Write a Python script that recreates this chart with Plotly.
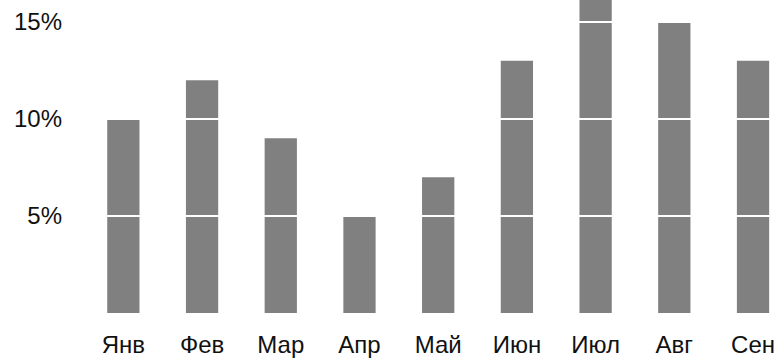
import plotly.graph_objects as go

months = ["Янв", "Фев", "Мар", "Апр", "Май", "Июн", "Июл", "Авг", "Сен"]
values = [10, 12, 9, 5, 7, 13, 17, 15, 13]
tick_values = [5, 10, 15]
tick_labels = ["5%", "10%", "15%"]

fig = go.Figure()
fig.add_trace(go.Bar(x=months, y=values, marker=dict(color="#808080", line=dict(width=0)),
                     width=0.41, hoverinfo="skip"))

for t in tick_values:
    fig.add_shape(type="line", xref="paper", x0=0, x1=1, yref="y", y0=t, y1=t,
                  line=dict(color="white", width=2), layer="above")

fig.update_layout(
    width=779, height=358,
    margin=dict(l=84, r=0, t=0, b=45),
    paper_bgcolor="white", plot_bgcolor="white",
    showlegend=False,
    font=dict(family="Liberation Sans, Arial, sans-serif", size=24, color="#111111"),
    xaxis=dict(range=[-0.5, 8.33], showgrid=False, zeroline=False, showline=False,
               ticks="", ticklabelstandoff=15),
    yaxis=dict(range=[0, 16.13], tickvals=tick_values, ticktext=tick_labels,
               showgrid=False, zeroline=False, showline=False, ticks="",
               ticklabelstandoff=21),
)

fig.write_html("out.html", config={"displayModeBar": False},
               post_script="document.body.style.margin='0';document.body.style.overflow='hidden';")
